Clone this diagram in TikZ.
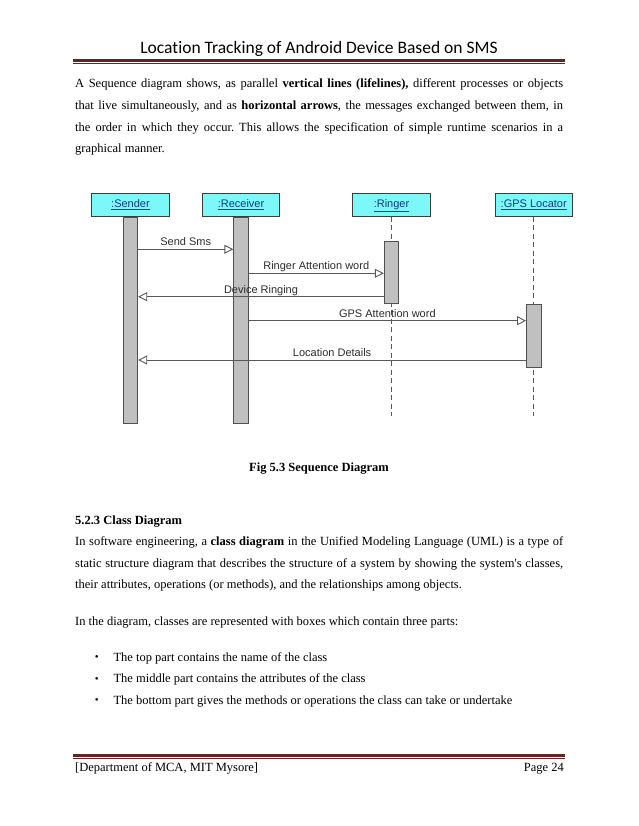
\documentclass[tikz,border=0pt]{standalone}
\usepackage{fontspec}
\setmainfont{Liberation Serif}
\newfontfamily\hdrfont[Ligatures=NoCommon]{Carlito}
\newfontfamily\umlfont{Liberation Sans}
\usetikzlibrary{positioning,calc,arrows.meta}
\frenchspacing

\definecolor{rulered}{RGB}{99,36,35}
\definecolor{objcyan}{RGB}{124,248,248}
\definecolor{objblue}{RGB}{22,58,130}
\definecolor{boxline}{RGB}{60,60,60}
\definecolor{bargray}{RGB}{192,192,192}
\definecolor{barline}{RGB}{80,80,80}
\definecolor{linegray}{RGB}{88,88,88}

\newlength{\textwd}
\setlength{\textwd}{488pt}
\newcommand{\fillline}[1]{\makebox[\textwd][s]{#1}}

\begin{document}
\begin{tikzpicture}[
  x=1pt, y=-1pt,
  every node/.style={inner sep=0pt},
  hdr/.style={font=\hdrfont\fontsize{17.5}{20}\selectfont},
  body/.style={anchor=base west, font=\fontsize{12.5}{15}\selectfont},
  rulethick/.style={draw=rulered, line width=2.6pt},
  rulethin/.style={draw=rulered, line width=0.8pt},
  objbox/.style={
    rectangle, draw=boxline, fill=objcyan, line width=0.8pt,
    minimum width=77.5pt, minimum height=22.6pt,
    text height=8pt, text depth=2.5pt,
    font=\umlfont\fontsize{11}{13}\selectfont, text=objblue,
  },
  actbar/.style={
    rectangle, draw=barline, fill=bargray, line width=0.8pt,
    minimum width=14.5pt, anchor=north,
  },
  lifeline/.style={draw=linegray, line width=0.9pt, dash pattern=on 5pt off 3.5pt},
  msg/.style={draw=linegray, line width=0.9pt,
    -{Triangle[open, length=9pt, width=9pt]}},
  msglbl/.style={font=\umlfont\fontsize{11}{13}\selectfont, text=black!82,
    text height=8pt, text depth=2.5pt, inner sep=0.5pt, anchor=south},
]

% ----- page -----
\fill[white] (0,0) rectangle (638,826);
\useasboundingbox (0,0) rectangle (638,826);
\def\lsp{21.6}

% ----- running header -----
\node[hdr, anchor=base] (title) at (319,54) {Location Tracking of Android Device Based on SMS};
\draw[rulethick] (73,60.3) -- (565,60.3);
\draw[rulethin] (73,63.4) -- (565,63.4);

% ----- first paragraph -----
\node[body] (p1a) at (75,88)
  {\fillline{A Sequence diagram shows, as parallel \textbf{vertical lines (lifelines),} different processes or objects}};
\node[body] (p1b) at ($(p1a.base west)+(0,\lsp)$)
  {\fillline{that live simultaneously, and as \textbf{horizontal arrows}, the messages exchanged between them, in}};
\node[body] (p1c) at ($(p1b.base west)+(0,\lsp)$)
  {\fillline{the order in which they occur. This allows the specification of simple runtime scenarios in a}};
\node[body] (p1d) at ($(p1c.base west)+(0,\lsp)$) {graphical manner.};

% ----- sequence diagram: objects -----
\node[objbox] (sender) at (130.5,205) {\underline{:Sender}};
\node[objbox] (receiver) at (241,205) {\underline{:Receiver}};
\node[objbox] (ringer) at (391.5,205) {\underline{:Ringer}};
\node[objbox] (gps) at (533.7,205) {\underline{:GPS Locator}};

% lifelines (dashed where no bar)
\coordinate (ringerEnd) at (391.5,416);
\coordinate (gpsEnd) at (533.7,416);
\draw[lifeline] (ringer.south) -- (ringerEnd);
\draw[lifeline] (gps.south) -- (gpsEnd);

% activation bars
\node[actbar, minimum height=206pt] (senderBar) at (sender.south) {};
\node[actbar, minimum height=206pt] (receiverBar) at (receiver.south) {};
\node[actbar, minimum height=62.3pt] (ringerBar) at (391.5,241) {};
\node[actbar, minimum height=63pt] (gpsBar) at (533.7,304.3) {};

% ----- messages -----
\coordinate (m1) at (0,249.3);
\coordinate (m2) at (0,273.3);
\coordinate (m3) at (0,296.7);
\coordinate (m4) at (0,320.7);
\coordinate (m5) at (0,360);

\draw[msg] (senderBar.east |- m1) -- node[msglbl] (lblSms) {Send Sms} (receiverBar.west |- m1);
\draw[msg] (receiverBar.east |- m2) -- node[msglbl] (lblRing) {Ringer Attention word} (ringerBar.west |- m2);
\draw[msg] (ringerBar.west |- m3) -- node[msglbl] (lblDev) {Device Ringing} (senderBar.east |- m3);
\draw[msg] (receiverBar.east |- m4) -- node[msglbl] (lblGps) {GPS Attention word} (gpsBar.west |- m4);
\draw[msg] (gpsBar.west |- m5) -- node[msglbl] (lblLoc) {Location Details} (senderBar.east |- m5);

% ----- caption -----
\node[body, anchor=base] (caption) at (319,471) {\textbf{Fig 5.3 Sequence Diagram}};

% ----- class diagram section -----
\node[body] (sec) at (75,524) {\textbf{5.2.3 Class Diagram}};
\node[body] (p2a) at ($(sec.base west)+(0,\lsp)$)
  {\fillline{In software engineering, a \textbf{class diagram} in the Unified Modeling Language (UML) is a type of}};
\node[body] (p2b) at ($(p2a.base west)+(0,\lsp)$)
  {\fillline{static structure diagram that describes the structure of a system by showing the system\textquotesingle s classes,}};
\node[body] (p2c) at ($(p2b.base west)+(0,\lsp)$)
  {their attributes, operations (or methods), and the relationships among objects.};
\node[body] (p3) at (75,625)
  {In the diagram, classes are represented with boxes which contain three parts:};

% bullet items
\node[body] (b1) at (113.3,661) {The top part contains the name of the class};
\node[body] (b2) at ($(b1.base west)+(0,\lsp)$) {The middle part contains the attributes of the class};
\node[body] (b3) at ($(b2.base west)+(0,\lsp)$) {The bottom part gives the methods or operations the class can take or undertake};
\foreach \b in {b1,b2,b3}
  \node[body, anchor=base, font=\fontsize{11}{12}\selectfont] (dot\b) at ($(\b.base west)+(-16.6,-0.5)$) {\textbullet};

% ----- running footer -----
\draw[rulethick] (73,755.5) -- (565,755.5);
\draw[rulethin] (73,758.6) -- (565,758.6);
\node[body] (dept) at (75,771) {[Department of MCA, MIT Mysore]};
\node[body, anchor=base east] (page) at (564,771) {Page 24};

\end{tikzpicture}
\end{document}
